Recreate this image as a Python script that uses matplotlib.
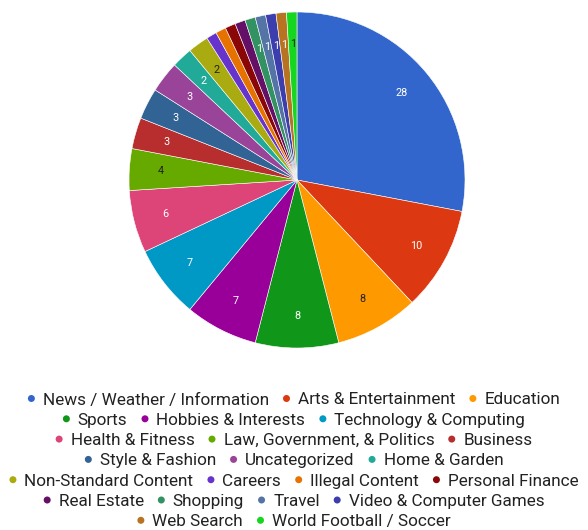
import matplotlib
matplotlib.use("Agg")
import matplotlib.pyplot as plt
from matplotlib.patches import Circle

categories = ["News / Weather / Information", "Arts & Entertainment", "Education",
              "Sports", "Hobbies & Interests", "Technology & Computing",
              "Health & Fitness", "Law, Government, & Politics", "Business",
              "Style & Fashion", "Uncategorized", "Home & Garden",
              "Non-Standard Content", "Careers", "Illegal Content", "Personal Finance",
              "Real Estate", "Shopping", "Travel", "Video & Computer Games",
              "Web Search", "World Football / Soccer"]
counts = [28, 10, 8, 8, 7, 7, 6, 4, 3, 3, 3, 2, 2, 1, 1, 1, 1, 1, 1, 1, 1, 1]
colors = ["#3366cc", "#dc3912", "#ff9900", "#109618", "#990099", "#0099c6",
          "#dd4477", "#66aa00", "#b82e2e", "#316395", "#994499", "#22aa99",
          "#aaaa11", "#6633cc", "#e67300", "#8b0707", "#651067", "#329262",
          "#5574a6", "#3b3eac", "#b77322", "#16d620"]
# slices whose value label is hidden in the original, and ones drawn in dark text
hidden = ["Careers", "Illegal Content", "Personal Finance", "Real Estate"]
dark_text = ["Education", "Law, Government, & Politics", "Non-Standard Content",
             "World Football / Soccer"]

W, H = 588, 530
fig = plt.figure(figsize=(W / 100, H / 100), dpi=100)

# pie: centre (297, 180) px, radius 168 px
cx, cy, r = 297, 180, 168
ax = fig.add_axes([(cx - r) / W, (H - cy - r) / H, 2 * r / W, 2 * r / H])
wedges, texts = ax.pie(counts, colors=colors, startangle=90, counterclock=False,
                       labels=[str(c) for c in counts], labeldistance=0.81,
                       wedgeprops=dict(edgecolor="white", linewidth=0.4))
for name, t in zip(categories, texts):
    t.set_ha("center")
    t.set_va("center")
    t.set_fontsize(7.8)
    t.set_fontfamily("Roboto")
    t.set_color("#222222" if name in dark_text else "white")
    if name in hidden:
        t.set_visible(False)
ax.set_xlim(-1, 1)
ax.set_ylim(-1, 1)
ax.set_aspect("equal")
ax.axis("off")

# legend, Google-charts style: centred wrapped rows
fs = 12.3
rows = [[0, 1, 2], [3, 4, 5], [6, 7, 8], [9, 10, 11],
        [12, 13, 14, 15], [16, 17, 18, 19], [20, 21]]
row_y0, row_step = 398.5, 20.3
dot_r, dot_gap, item_gap = 3.5, 8, 14
renderer = fig.canvas.get_renderer()

def text_width(s):
    t = fig.text(0, 0, s, fontsize=fs, family="Roboto")
    w = t.get_window_extent(renderer).width
    t.remove()
    return w

for ri, row in enumerate(rows):
    widths = [2 * dot_r + dot_gap + text_width(categories[i]) for i in row]
    total = sum(widths) + item_gap * (len(row) - 1)
    x = (W - total) / 2
    y = H - (row_y0 + ri * row_step)
    for i, w in zip(row, widths):
        fig.patches.append(Circle((x + dot_r, y), dot_r, transform=None,
                                  facecolor=colors[i], edgecolor="none"))
        fig.text((x + 2 * dot_r + dot_gap) / W, y / H, categories[i], fontsize=fs,
                 family="Roboto", color="#222222", ha="left", va="center_baseline")
        x += w + item_gap

fig.savefig("out.png", dpi=100)
